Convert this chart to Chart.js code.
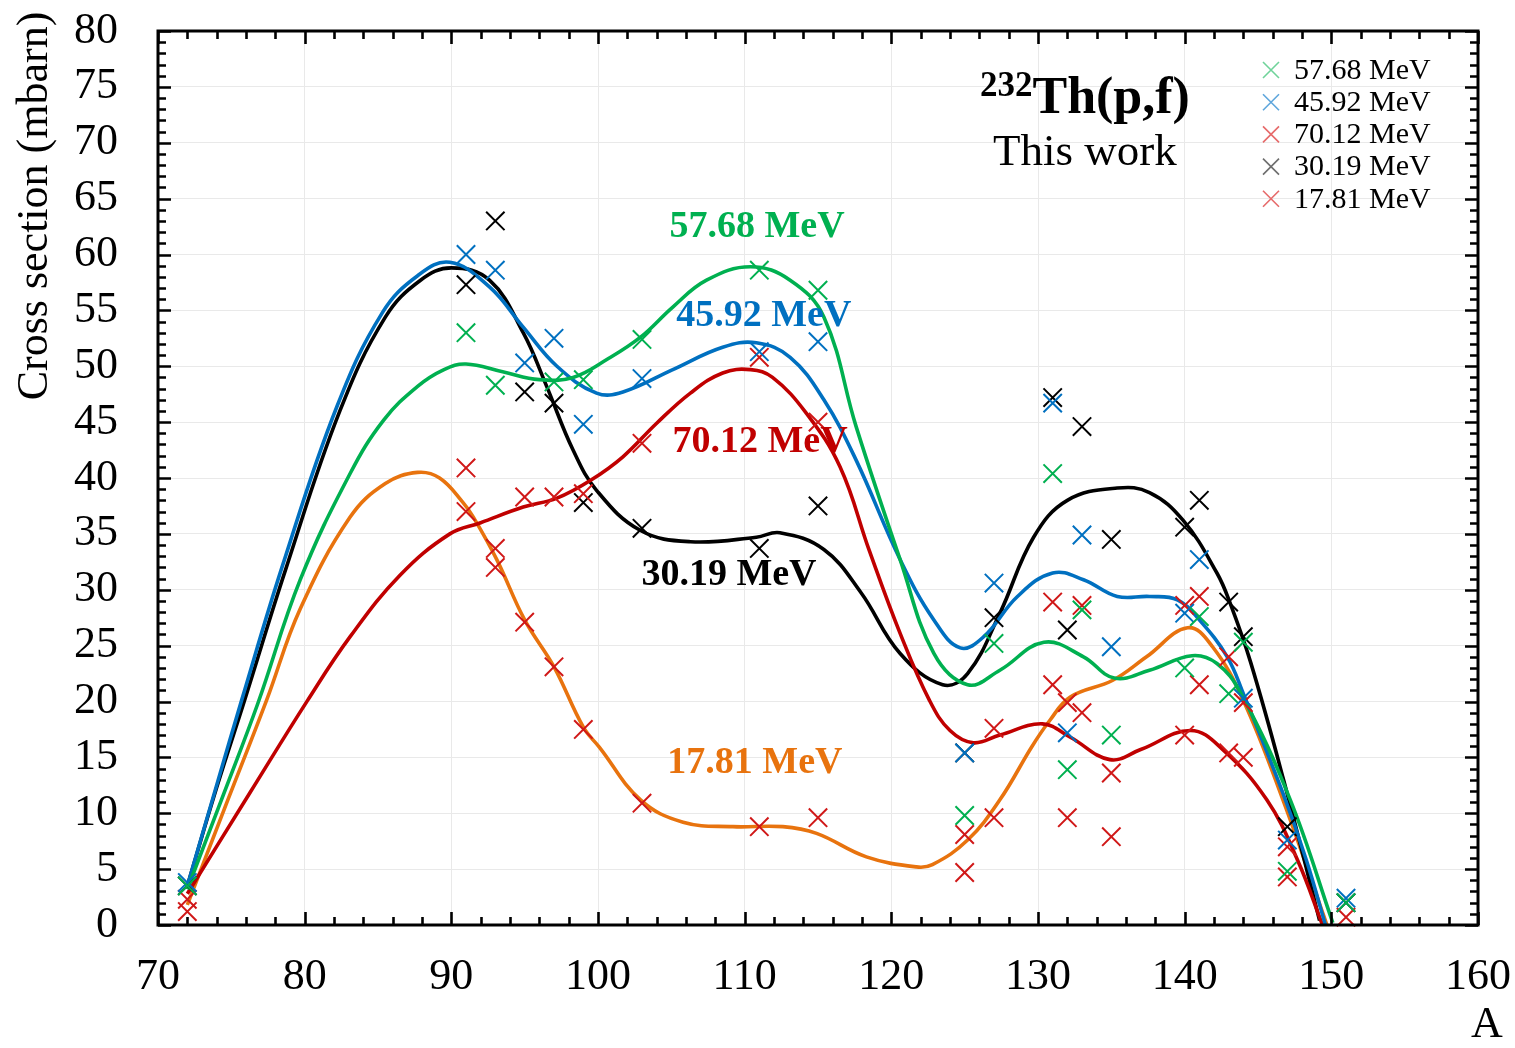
<!DOCTYPE html>
<html><head><meta charset="utf-8">
<script src="https://cdn.jsdelivr.net/npm/chart.js@4.4.0/dist/chart.umd.min.js"></script>
<style>html,body{margin:0;padding:0;background:#fff;}#wrap{width:1515px;height:1048px;}</style>
</head><body><div id="wrap"><canvas id="c" width="1515" height="1048"></canvas></div>
<script>
// ---------- data ----------
const xTickValues = [70, 80, 90, 100, 110, 120, 130, 140, 150, 160];
const yTickValues = [0, 5, 10, 15, 20, 25, 30, 35, 40, 45, 50, 55, 60, 65, 70, 75, 80];

// measured points (crosses)
const A_5768 = [72, 91, 93, 97, 99, 103, 111, 115, 125, 127, 131, 132, 133, 135, 140, 141, 143, 144, 147, 151];
const V_5768 = [3.5, 53.0, 48.3, 48.6, 48.8, 52.4, 58.6, 56.8, 9.8, 25.2, 40.4, 13.9, 28.2, 17.0, 23.0, 27.6, 20.7, 25.3, 4.8, 2.0];

const A_4592 = [72, 91, 93, 95, 97, 99, 103, 111, 115, 125, 127, 131, 132, 133, 135, 140, 141, 144, 147, 151];
const V_4592 = [3.8, 60.0, 58.6, 50.3, 52.5, 44.8, 48.9, 51.3, 52.2, 15.4, 30.6, 46.7, 17.2, 34.9, 24.9, 27.9, 32.7, 20.3, 7.6, 2.4];

const A_7012 = [72, 91, 93, 95, 97, 99, 103, 111, 115, 125, 127, 131, 132, 133, 135, 140, 141, 143, 144, 147, 151];
const V_7012 = [2.3, 40.9, 33.7, 38.3, 38.3, 38.6, 43.1, 50.8, 45.0, 8.1, 17.6, 21.5, 19.9, 19.0, 13.6, 17.0, 21.5, 15.4, 15.0, 7.0, 0.7];

const A_3019 = [72, 91, 93, 95, 97, 99, 103, 111, 115, 125, 127, 131, 132, 133, 135, 140, 141, 143, 144, 147, 151];
const V_3019 = [3.5, 57.3, 63.0, 47.7, 46.7, 37.8, 35.5, 33.7, 37.5, 15.4, 27.5, 47.2, 26.4, 44.6, 34.5, 35.6, 38.0, 28.9, 25.8, 8.8, 2.0];

const A_1781 = [72, 91, 93, 95, 97, 99, 103, 111, 115, 125, 127, 131, 132, 133, 135, 140, 141, 143, 144, 147];
const V_1781 = [1.2, 37.0, 32.0, 27.1, 23.1, 17.5, 10.9, 8.8, 9.6, 4.7, 9.6, 28.9, 9.6, 28.6, 7.9, 28.6, 29.4, 24.0, 19.9, 4.3];

// fitted curves
const CA_5768 = [72, 74.5, 76.8, 79.7, 83.1, 85.4, 87.7, 89.5, 91, 93.5, 96, 98.3, 100.6, 102.9, 105.1, 107.4, 110.4, 113.1, 115.4, 117.6, 120.6, 122.9, 125.2, 127.4, 130.4, 133.1, 135.2, 137.6, 140.5, 142.2, 143.8, 147.2, 150.1];
const CV_5768 = [3.2, 11.8, 19.8, 30.9, 40.4, 45.2, 48.2, 49.7, 50.2, 49.5, 48.8, 49.0, 50.6, 52.6, 55.3, 57.7, 58.9, 57.7, 54.4, 44.6, 32.7, 24.3, 21.5, 22.8, 25.3, 24.0, 22.1, 22.8, 24.1, 23.4, 20.8, 11.2, 0.2];

const CA_4592 = [72, 74, 75.7, 78.5, 82.2, 85.3, 87.7, 89.9, 92.6, 94.9, 97.2, 99.9, 101.7, 105.1, 108.5, 110.8, 113.1, 115.4, 117.6, 120.6, 122.9, 124.7, 126.3, 128.6, 131, 133.1, 135.4, 137.6, 139.5, 141, 142.9, 144, 146.7, 148.3, 149.6];
const CV_4592 = [3.5, 12.5, 20.1, 32.2, 46.4, 54.8, 58.1, 59.3, 57.1, 53.5, 50.0, 47.6, 47.7, 49.7, 51.7, 52.1, 50.8, 47.0, 41.6, 32.7, 27.3, 24.8, 25.8, 29.4, 31.5, 30.9, 29.4, 29.4, 29.1, 27.3, 24.0, 20.7, 11.8, 5.8, 0];

const CA_7012 = [72, 76.3, 80.2, 83.1, 86.5, 89.9, 92, 94.9, 97.2, 99.5, 101.7, 104, 106.3, 108.5, 110.4, 111.9, 114.2, 116.5, 118.5, 120.6, 122.6, 124, 125.6, 127.4, 130.3, 132.2, 134.9, 137, 140.4, 142.6, 145.6, 147.7, 149.4];
const CV_7012 = [2.8, 11.9, 20.1, 25.8, 31.3, 35.0, 36.0, 37.4, 38.2, 39.8, 41.9, 44.9, 47.6, 49.4, 49.7, 49.0, 45.8, 41.0, 33.5, 26.1, 20.1, 17.4, 16.3, 17.0, 18.0, 16.8, 14.8, 15.7, 17.4, 15.7, 11.2, 5.8, 0];

const CA_3019 = [72, 74, 75.9, 78.7, 82.4, 85.5, 87.9, 90, 92.6, 94.9, 96.5, 98.3, 99.9, 102.9, 106.3, 110.8, 112.4, 115.4, 117.9, 120.6, 123.5, 125.2, 127.4, 129.7, 132, 135.4, 137.6, 139.9, 142.2, 143.1, 144.5, 146.7, 149.2];
const CV_3019 = [3.5, 12.3, 20.1, 31.8, 46.0, 54.4, 57.7, 58.8, 57.7, 53.0, 48.2, 42.5, 38.9, 35.3, 34.3, 34.7, 35.1, 33.6, 29.8, 24.3, 21.5, 22.5, 27.9, 34.7, 38.0, 39.1, 38.7, 36.2, 31.5, 28.8, 23.5, 13.2, 0.4];

const CA_1781 = [72, 74.5, 77.4, 79.7, 83.1, 85.5, 87.7, 89.2, 90.8, 91.5, 93.1, 95, 97, 99, 100.1, 102.9, 105.8, 109.2, 112.6, 114.9, 118.3, 121.7, 122.8, 125.2, 127.4, 129.6, 130.8, 132.2, 135.1, 137.4, 140.2, 141.9, 144, 146.7, 149.7];
const CV_1781 = [1.8, 10.3, 20.1, 28.3, 36.5, 39.5, 40.5, 40.0, 37.8, 36.5, 32.7, 27.3, 23.1, 17.7, 15.9, 11.2, 9.2, 8.8, 8.8, 8.2, 6.1, 5.2, 5.4, 7.6, 11.2, 16.0, 18.3, 20.4, 21.9, 24.0, 26.6, 24.9, 20.1, 11.2, 0];

const seriesNames = ['57.68 MeV', '45.92 MeV', '70.12 MeV', '30.19 MeV', '17.81 MeV'];

// ---------- styling ----------
const crossColors = ['#00B050', '#0070C0', '#D01818', '#000000', '#D01818'];
const lineColors  = ['#00B050', '#0070C0', '#C00000', '#000000', '#E8730E'];
const legendColors = ['#6FD39A', '#5FA6DC', '#E66A6A', '#6E6E6E', '#E66A6A'];
const SERIF = "'Liberation Serif', 'Times New Roman', serif";

const zip = (xs, ys) => xs.map((x, i) => ({x: x, y: ys[i]}));
const pts = [zip(A_5768, V_5768), zip(A_4592, V_4592), zip(A_7012, V_7012), zip(A_3019, V_3019), zip(A_1781, V_1781)];
const curves = [zip(CA_5768, CV_5768), zip(CA_4592, CV_4592), zip(CA_7012, CV_7012), zip(CA_3019, CV_3019), zip(CA_1781, CV_1781)];

const datasets = [];
pts.forEach((d, i) => datasets.push({
  type: 'scatter', label: seriesNames[i], data: d, order: 0,
  pointStyle: 'crossRot', pointRadius: 13, pointHoverRadius: 13,
  borderColor: crossColors[i], backgroundColor: crossColors[i], pointBorderWidth: 2, borderWidth: 2,
  showLine: false, clip: false
}));
curves.forEach((d, i) => datasets.push({
  type: 'line', label: 'fit ' + seriesNames[i], data: d, order: 1,
  borderColor: lineColors[i], borderWidth: 3.6, pointRadius: 0, fill: false,
  tension: 0.4, cubicInterpolationMode: 'default'
}));

// curve label annotations (placed in data coordinates)
const curveLabels = [
  {text: '57.68 MeV', x: 110.84, y: 62.4, color: '#00B050'},
  {text: '45.92 MeV', x: 111.3, y: 54.5, color: '#0070C0'},
  {text: '70.12 MeV', x: 111.05, y: 43.2, color: '#C00000'},
  {text: '30.19 MeV', x: 108.93, y: 31.3, color: '#000000'},
  {text: '17.81 MeV', x: 110.7, y: 14.5, color: '#E8730E'}
];

const decor = {
  id: 'decor',
  afterDatasetsDraw(chart) {
    const ctx = chart.ctx, a = chart.chartArea;
    const xs = chart.scales.x, ys = chart.scales.y;
    ctx.save();
    // frame
    ctx.strokeStyle = '#000'; ctx.lineWidth = 3;
    ctx.strokeRect(a.left, a.top, a.right - a.left, a.bottom - a.top);
    // inward ticks
    ctx.lineWidth = 2.6;
    ctx.beginPath();
    for (let v = 70; v <= 160; v += 2) {
      const px = Math.round(xs.getPixelForValue(v)) + 0.5;
      const L = (v % 10 === 0) ? 13 : 8;
      ctx.moveTo(px, a.bottom); ctx.lineTo(px, a.bottom - L);
      ctx.moveTo(px, a.top); ctx.lineTo(px, a.top + L);
    }
    for (let v = 0; v <= 80; v += 1) {
      const py = Math.round(ys.getPixelForValue(v)) + 0.5;
      const L = (v % 5 === 0) ? 13 : 8;
      ctx.moveTo(a.left, py); ctx.lineTo(a.left + L, py);
      ctx.moveTo(a.right, py); ctx.lineTo(a.right - L, py);
    }
    ctx.stroke();

    // curve labels
    ctx.textAlign = 'center'; ctx.textBaseline = 'middle';
    ctx.font = 'bold 38px ' + SERIF;
    curveLabels.forEach(l => {
      ctx.fillStyle = l.color;
      ctx.fillText(l.text, xs.getPixelForValue(l.x), ys.getPixelForValue(l.y));
    });

    // title block
    ctx.fillStyle = '#000';
    ctx.textBaseline = 'alphabetic';
    ctx.textAlign = 'left';
    const cx = xs.getPixelForValue(133.2);
    ctx.font = 'bold 35px ' + SERIF;
    const wSup = ctx.measureText('232').width;
    ctx.font = 'bold 52px ' + SERIF;
    const wMain = ctx.measureText('Th(p,f)').width;
    const x0 = cx - (wSup + wMain) / 2;
    const baseY = ys.getPixelForValue(72.66);
    ctx.font = 'bold 35px ' + SERIF;
    ctx.fillText('232', x0, baseY - 17);
    ctx.font = 'bold 52px ' + SERIF;
    ctx.fillText('Th(p,f)', x0 + wSup, baseY);
    ctx.textAlign = 'center';
    ctx.font = '45px ' + SERIF;
    ctx.fillText('This work', cx, ys.getPixelForValue(68.0));

    // legend
    ctx.font = '30px ' + SERIF;
    ctx.textAlign = 'left'; ctx.textBaseline = 'middle';
    seriesNames.forEach((n, i) => {
      const y = 70 + i * 32.2, x = 1271, r = 8;
      ctx.strokeStyle = legendColors[i]; ctx.lineWidth = 1.6;
      ctx.beginPath();
      ctx.moveTo(x - r, y - r); ctx.lineTo(x + r, y + r);
      ctx.moveTo(x + r, y - r); ctx.lineTo(x - r, y + r);
      ctx.stroke();
      ctx.fillStyle = '#000';
      ctx.fillText(n, 1294, y + 1);
    });

    // axis titles
    ctx.font = '44px ' + SERIF;
    ctx.textAlign = 'center'; ctx.textBaseline = 'middle';
    ctx.fillText('A', 1487, 1025);
    ctx.save();
    ctx.translate(35, 206);
    ctx.rotate(-Math.PI / 2);
    ctx.fillText('Cross section (mbarn)', 0, 0);
    ctx.restore();
    ctx.restore();
  }
};

const noPad = s => { s.paddingTop = 0; s.paddingBottom = 0; s.paddingLeft = 0; s.paddingRight = 0; };

new Chart(document.getElementById('c'), {
  data: {datasets: datasets},
  options: {
    responsive: false, animation: false, devicePixelRatio: 1,
    layout: {padding: {top: 31, right: 37, left: 0, bottom: 0}},
    plugins: {legend: {display: false}, tooltip: {enabled: false}, title: {display: false}},
    events: [],
    scales: {
      x: {
        type: 'linear', min: 70, max: 160,
        afterBuildTicks: s => { s.ticks = xTickValues.map(v => ({value: v})); },
        afterFit: s => { s.height = 123; noPad(s); },
        grid: {color: '#e9e9e9', lineWidth: 1, drawTicks: false},
        border: {display: false},
        ticks: {color: '#000', font: {family: SERIF, size: 44}, padding: 26, maxRotation: 0, autoSkip: false}
      },
      y: {
        type: 'linear', min: 0, max: 80,
        afterBuildTicks: s => { s.ticks = yTickValues.map(v => ({value: v})); },
        afterFit: s => { s.width = 158; noPad(s); },
        grid: {color: '#e9e9e9', lineWidth: 1, drawTicks: false},
        border: {display: false},
        ticks: {color: '#000', font: {family: SERIF, size: 44}, padding: 40, autoSkip: false}
      }
    }
  },
  plugins: [decor]
});
</script></body></html>
